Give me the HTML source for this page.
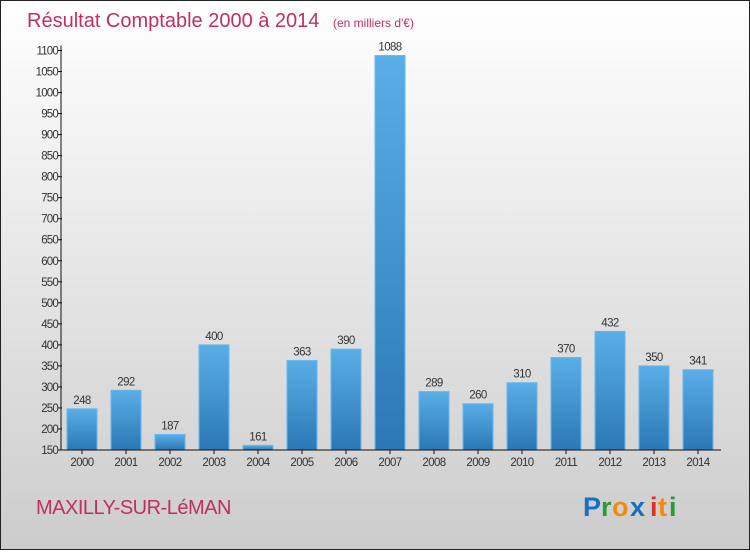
<!DOCTYPE html>
<html><head><meta charset="utf-8"><style>
html,body{margin:0;padding:0}
body{width:750px;height:550px;overflow:hidden}
</style></head><body>
<svg width="750" height="550" xmlns="http://www.w3.org/2000/svg" style="font-family:'Liberation Sans',sans-serif">
<defs>
<linearGradient id="bg" x1="0" y1="0" x2="0" y2="1"><stop offset="0" stop-color="#ffffff"/><stop offset="1" stop-color="#cccccc"/></linearGradient>
<linearGradient id="bar" x1="0" y1="0" x2="0" y2="1"><stop offset="0" stop-color="#5aaee6"/><stop offset="1" stop-color="#2a78b6"/></linearGradient>
</defs>
<rect x="0.5" y="0.5" width="749" height="549" fill="url(#bg)" stroke="#222"/>
<text x="27" y="27" font-size="20" fill="#c0305e">Résultat Comptable 2000 à 2014 <tspan font-size="12" dx="8">(en milliers d'€)</tspan></text>
<g id="yaxis"></g>
<g id="bars"></g>
<g id="xaxis"></g>
<text x="36" y="514" font-size="20" fill="#c0305e" letter-spacing="-0.5">MAXILLY-SUR-LéMAN</text>
<g font-size="27" font-weight="bold">
<text x="583" y="516" fill="#1a6fc0">P</text><text x="601" y="516" fill="#2a9a3a">r</text><text x="612" y="516" fill="#f08a10">o</text><text x="630" y="516" fill="#1a6fc0">x</text><text x="650" y="516" fill="#e03020">i</text><text x="658" y="516" fill="#f08a10">t</text><text x="669" y="516" fill="#2a9a3a">i</text>
</g>
</svg>
<script>
const categories=["2000","2001","2002","2003","2004","2005","2006","2007","2008","2009","2010","2011","2012","2013","2014"];
const values=[248,292,187,400,161,363,390,1088,289,260,310,370,432,350,341];
const yTicks=[150,200,250,300,350,400,450,500,550,600,650,700,750,800,850,900,950,1000,1050,1100];
const NS="http://www.w3.org/2000/svg";
const y0=450,y1=50.5,vmin=150,vmax=1100;
function yScale(v){return y0-(v-vmin)/(vmax-vmin)*(y0-y1);}
function xScale(i){return 82+44*i;}
function mk(t,a,p){const e=document.createElementNS(NS,t);for(const k in a)e.setAttribute(k,a[k]);p.appendChild(e);return e;}
const ya=document.getElementById('yaxis'),ba=document.getElementById('bars'),xa=document.getElementById('xaxis');
const l=mk('line',{x1:61,y1:y1-5,x2:61,y2:y0,stroke:'#111'},ya);


yTicks.forEach(v=>{const y=yScale(v);
const t=mk('line',{x1:58,y1:y,x2:62,y2:y,stroke:'#111'},ya);


const tx=mk('text',{x:58,y:y+4,'font-size':11.5,fill:'#333','text-anchor':'end','letter-spacing':'-0.8'},ya);tx.textContent=v;

});
const xl=mk('line',{x1:61,y1:y0,x2:721,y2:y0,stroke:'#111'},xa);


categories.forEach((c,i)=>{const cx=xScale(i),y=yScale(values[i]);
const r=mk('rect',{x:cx-15,y:y,width:30,height:y0-y,fill:'url(#bar)',stroke:'#6ab8ee','stroke-width':1},ba);


const vl=mk('text',{x:cx,y:y-5,'font-size':11.5,fill:'#333','text-anchor':'middle','letter-spacing':'-0.6'},ba);vl.textContent=values[i];


const tk=mk('line',{x1:cx,y1:y0,x2:cx,y2:y0+4,stroke:'#111'},xa);


const xt=mk('text',{x:cx,y:y0+16,'font-size':11.5,fill:'#333','text-anchor':'middle','letter-spacing':'-0.6'},xa);xt.textContent=c;

});
</script>
</body></html>
